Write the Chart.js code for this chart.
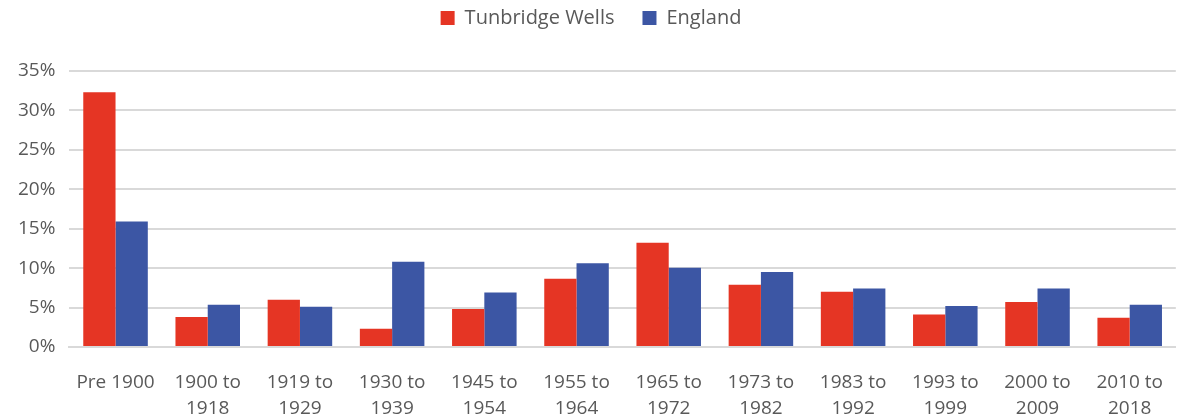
<!DOCTYPE html>
<html>
<head>
<meta charset="utf-8">
<script src="https://cdn.jsdelivr.net/npm/chart.js@4"></script>
<style>
  html, body { margin: 0; padding: 0; background: #fff; }
  #wrap { width: 1178px; height: 419px; }
</style>
</head>
<body>
<div id="wrap"><canvas id="myChart"></canvas></div>
<script>
const categories = [
  ['Pre 1900'], ['1900 to', '1918'], ['1919 to', '1929'], ['1930 to', '1939'],
  ['1945 to', '1954'], ['1955 to', '1964'], ['1965 to', '1972'], ['1973 to', '1982'],
  ['1983 to', '1992'], ['1993 to', '1999'], ['2000 to', '2009'], ['2010 to', '2018']
];
const tunbridgeWells = [32.3, 3.8, 6.0, 2.3, 4.8, 8.65, 13.2, 7.9, 7.0, 4.1, 5.7, 3.7];
const england = [15.9, 5.35, 5.1, 10.8, 6.9, 10.6, 10.05, 9.5, 7.4, 5.2, 7.4, 5.35];
const yTicks = [0, 5, 10, 15, 20, 25, 30, 35];

const ctx = document.getElementById('myChart').getContext('2d');
Chart.defaults.font.family = "'Open Sans', 'Noto Sans', sans-serif";
Chart.defaults.color = '#595959';

// fixed legend block height so the plot starts where the original does
const legendGap = {
  id: 'legendGap',
  beforeInit(chart) {
    const fit = chart.legend.fit;
    chart.legend.fit = function () {
      fit.bind(this)();
      this.height = 91;
    };
  }
};

new Chart(ctx, {
  type: 'bar',
  data: {
    labels: categories,
    datasets: [{
      label: 'Tunbridge Wells',
      data: tunbridgeWells,
      backgroundColor: '#e53524',
      borderWidth: 0
    }, {
      label: 'England',
      data: england,
      backgroundColor: '#3c56a4',
      borderWidth: 0
    }]
  },
  options: {
    responsive: true,
    maintainAspectRatio: false,
    animation: false,
    datasets: {
      bar: { categoryPercentage: 0.7, barPercentage: 1.0 }
    },
    layout: { padding: { left: 4, right: 0, top: -20, bottom: -18 } },
    plugins: {
      legend: {
        position: 'top',
        labels: {
          boxWidth: 14,
          boxHeight: 14,
          padding: 28,
          font: { size: 20 }
        }
      },
      tooltip: { enabled: false }
    },
    scales: {
      x: {
        grid: { display: false },
        border: { color: '#d9d9d9', width: 2 },
        ticks: {
          font: { size: 19, lineHeight: 1.37 },
          maxRotation: 0,
          autoSkip: false,
          padding: 15
        }
      },
      y: {
        min: 0,
        max: 35,
        afterBuildTicks: axis => { axis.ticks = yTicks.map(v => ({ value: v })); },
        grid: { color: '#d9d9d9', lineWidth: 2, drawTicks: false },
        border: { display: false },
        ticks: {
          font: { size: 19 },
          padding: 14,
          callback: v => v + '%'
        }
      }
    }
  },
  plugins: [legendGap]
});
</script>
</body>
</html>
